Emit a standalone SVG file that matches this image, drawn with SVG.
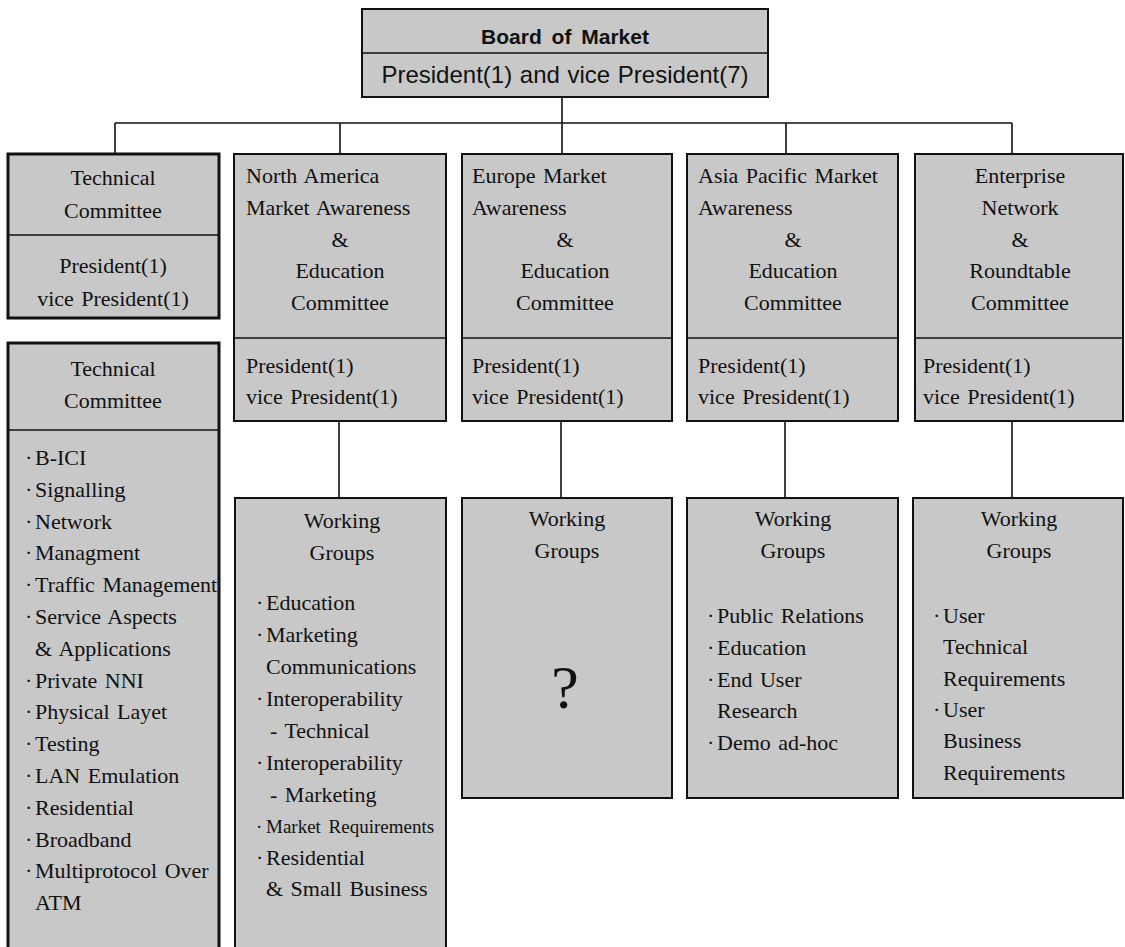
<svg xmlns="http://www.w3.org/2000/svg" width="1125" height="947" viewBox="0 0 1125 947">
<defs>
<style>
.box{fill:#c8c8c8;stroke:#111;stroke-width:2}
.tbox{fill:#c8c8c8;stroke:#111;stroke-width:3}
.div{stroke:#111;stroke-width:1.6;fill:none}
.con{stroke:#111;stroke-width:1.6;fill:none}
.t{font-family:"Liberation Serif","Times New Roman",serif;font-size:22px;fill:#111;word-spacing:2px}
.c{text-anchor:middle}
.small{font-size:19px;word-spacing:3px}
.sb{font-family:"Liberation Sans",Arial,sans-serif;font-size:21px;font-weight:bold;fill:#111;text-anchor:middle;word-spacing:4px}
.s{font-family:"Liberation Sans",Arial,sans-serif;font-size:24px;fill:#111;text-anchor:middle;word-spacing:1px}
.q{font-family:"Liberation Serif","Times New Roman",serif;font-size:62px;fill:#111;text-anchor:middle}
</style>
</defs>
<rect width="1125" height="947" fill="#fff"/>

<g id="connectors">
<path class="con" d="M562 97V154"/>
<path class="con" d="M115 123H1012"/>
<path class="con" d="M115 123V154M340 123V154M786 123V154M1012 123V154"/>
<path class="con" d="M339 421V498M561 421V498M785 421V498M1012 421V498"/>
</g>

<g id="board">
<rect class="box" x="362" y="9" width="406" height="88"/>
<path class="div" d="M362 53H768"/>
<text class="sb" x="565" y="44">Board of Market</text>
<text class="s" x="565" y="83">President(1) and vice President(7)</text>
</g>

<g id="tech1">
<rect class="tbox" x="8" y="154" width="211" height="164"/>
<path class="div" d="M8 235H219"/>
<text class="t c" x="113" y="185">Technical</text>
<text class="t c" x="113" y="218">Committee</text>
<text class="t c" x="113" y="273">President(1)</text>
<text class="t c" x="113" y="306">vice President(1)</text>
</g>

<g id="tech2">
<rect class="tbox" x="8" y="343" width="211" height="620"/>
<path class="div" d="M8 430H219"/>
<text class="t c" x="113" y="376">Technical</text>
<text class="t c" x="113" y="408">Committee</text>
<text class="t" y="465"><tspan x="25">·</tspan><tspan x="35">B-ICI</tspan></text>
<text class="t" y="497"><tspan x="25">·</tspan><tspan x="35">Signalling</tspan></text>
<text class="t" y="529"><tspan x="25">·</tspan><tspan x="35">Network</tspan></text>
<text class="t" y="560"><tspan x="25">·</tspan><tspan x="35">Managment</tspan></text>
<text class="t" y="592"><tspan x="25">·</tspan><tspan x="35">Traffic Management</tspan></text>
<text class="t" y="624"><tspan x="25">·</tspan><tspan x="35">Service Aspects</tspan></text>
<text class="t" x="35" y="656">&amp; Applications</text>
<text class="t" y="688"><tspan x="25">·</tspan><tspan x="35">Private NNI</tspan></text>
<text class="t" y="719"><tspan x="25">·</tspan><tspan x="35">Physical Layet</tspan></text>
<text class="t" y="751"><tspan x="25">·</tspan><tspan x="35">Testing</tspan></text>
<text class="t" y="783"><tspan x="25">·</tspan><tspan x="35">LAN Emulation</tspan></text>
<text class="t" y="815"><tspan x="25">·</tspan><tspan x="35">Residential</tspan></text>
<text class="t" y="847"><tspan x="25">·</tspan><tspan x="35">Broadband</tspan></text>
<text class="t" y="878"><tspan x="25">·</tspan><tspan x="35">Multiprotocol Over</tspan></text>
<text class="t" x="35" y="910">ATM</text>
</g>

<g id="na">
<rect class="box" x="234" y="154" width="212" height="267"/>
<path class="div" d="M234 338H446"/>
<text class="t" x="246" y="183">North America</text>
<text class="t" x="246" y="215">Market Awareness</text>
<text class="t c" x="340" y="247">&amp;</text>
<text class="t c" x="340" y="278">Education</text>
<text class="t c" x="340" y="310">Committee</text>
<text class="t" x="246" y="373">President(1)</text>
<text class="t" x="246" y="404">vice President(1)</text>
</g>

<g id="europe">
<rect class="box" x="462" y="154" width="210" height="267"/>
<path class="div" d="M462 338H672"/>
<text class="t" x="472" y="183">Europe Market</text>
<text class="t" x="472" y="215">Awareness</text>
<text class="t c" x="565" y="247">&amp;</text>
<text class="t c" x="565" y="278">Education</text>
<text class="t c" x="565" y="310">Committee</text>
<text class="t" x="472" y="373">President(1)</text>
<text class="t" x="472" y="404">vice President(1)</text>
</g>

<g id="asia">
<rect class="box" x="687" y="154" width="211" height="267"/>
<path class="div" d="M687 338H898"/>
<text class="t" x="698" y="183">Asia Pacific Market</text>
<text class="t" x="698" y="215">Awareness</text>
<text class="t c" x="793" y="247">&amp;</text>
<text class="t c" x="793" y="278">Education</text>
<text class="t c" x="793" y="310">Committee</text>
<text class="t" x="698" y="373">President(1)</text>
<text class="t" x="698" y="404">vice President(1)</text>
</g>

<g id="enterprise">
<rect class="box" x="915" y="154" width="208" height="267"/>
<path class="div" d="M915 338H1123"/>
<text class="t c" x="1020" y="183">Enterprise</text>
<text class="t c" x="1020" y="215">Network</text>
<text class="t c" x="1020" y="247">&amp;</text>
<text class="t c" x="1020" y="278">Roundtable</text>
<text class="t c" x="1020" y="310">Committee</text>
<text class="t" x="923" y="373">President(1)</text>
<text class="t" x="923" y="404">vice President(1)</text>
</g>

<g id="wg-na">
<rect class="box" x="235" y="498" width="211" height="465"/>
<text class="t c" x="342" y="528">Working</text>
<text class="t c" x="342" y="560">Groups</text>
<text class="t" y="610"><tspan x="256">·</tspan><tspan x="266">Education</tspan></text>
<text class="t" y="642"><tspan x="256">·</tspan><tspan x="266">Marketing</tspan></text>
<text class="t" x="266" y="674">Communications</text>
<text class="t" y="706"><tspan x="256">·</tspan><tspan x="266">Interoperability</tspan></text>
<text class="t" x="270" y="738">- Technical</text>
<text class="t" y="770"><tspan x="256">·</tspan><tspan x="266">Interoperability</tspan></text>
<text class="t" x="270" y="802">- Marketing</text>
<text class="t small" y="833"><tspan x="256">·</tspan><tspan x="266">Market Requirements</tspan></text>
<text class="t" y="865"><tspan x="256">·</tspan><tspan x="266">Residential</tspan></text>
<text class="t" x="266" y="896">&amp; Small Business</text>
</g>

<g id="wg-europe">
<rect class="box" x="462" y="498" width="210" height="300"/>
<text class="t c" x="567" y="526">Working</text>
<text class="t c" x="567" y="558">Groups</text>
<text class="q" x="565" y="708">?</text>
</g>

<g id="wg-asia">
<rect class="box" x="687" y="498" width="211" height="300"/>
<text class="t c" x="793" y="526">Working</text>
<text class="t c" x="793" y="558">Groups</text>
<text class="t" y="623"><tspan x="707">·</tspan><tspan x="717">Public Relations</tspan></text>
<text class="t" y="655"><tspan x="707">·</tspan><tspan x="717">Education</tspan></text>
<text class="t" y="687"><tspan x="707">·</tspan><tspan x="717">End User</tspan></text>
<text class="t" x="717" y="718">Research</text>
<text class="t" y="750"><tspan x="707">·</tspan><tspan x="717">Demo ad-hoc</tspan></text>
</g>

<g id="wg-enterprise">
<rect class="box" x="913" y="498" width="210" height="300"/>
<text class="t c" x="1019" y="526">Working</text>
<text class="t c" x="1019" y="558">Groups</text>
<text class="t" y="623"><tspan x="933">·</tspan><tspan x="943">User</tspan></text>
<text class="t" x="943" y="654">Technical</text>
<text class="t" x="943" y="686">Requirements</text>
<text class="t" y="717"><tspan x="933">·</tspan><tspan x="943">User</tspan></text>
<text class="t" x="943" y="748">Business</text>
<text class="t" x="943" y="780">Requirements</text>
</g>
</svg>
